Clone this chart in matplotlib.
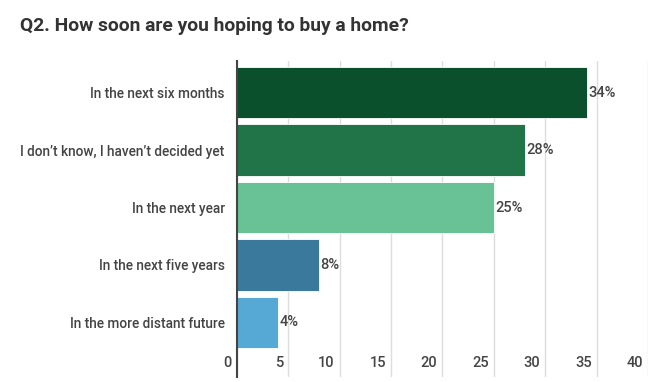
import numpy as np
import matplotlib.pyplot as plt
from matplotlib.transforms import ScaledTranslation

plt.rcParams['font.family'] = ['Roboto', 'DejaVu Sans']

# Dane
categories = ['In the next six months', 'I don\u2019t know, I haven\u2019t decided yet',
              'In the next year', 'In the next five years', 'In the more distant future']
values = [34, 28, 25, 8, 4]
colors = ['#0a502c', '#207448', '#68c295', '#3a799c', '#56a9d5']
xticks = [0, 5, 10, 15, 20, 25, 30, 35, 40]

W, H = 659, 382
fig = plt.figure(figsize=(W / 100, H / 100), dpi=100)
ax = fig.add_axes([236.5 / W, 1 - 377 / H, (648.5 - 236.5) / W, (377 - 61) / H])

y = np.arange(len(categories))
ax.barh(y, values, height=0.9, color=colors, edgecolor='white', linewidth=0.6, zorder=2)

for yi, v in zip(y, values):
    ax.text(v + 0.15, yi, f'{v}%', va='center', ha='left', fontsize=10.5,
            fontweight='medium', color='#444444')

ax.set_xlim(0, 40)
ax.set_ylim(4.948, -0.548)
ax.set_yticks(y)
ax.set_yticklabels(categories, fontsize=9.8, fontweight='medium', color='#444444')
ax.tick_params(axis='y', length=0, pad=8.5)

ax.set_xticks(xticks)
ax.set_xticklabels([str(t) for t in xticks], fontsize=10.5, fontweight='medium', color='#444444')
ax.tick_params(axis='x', length=0, pad=-15)
for lbl in ax.get_xticklabels():
    lbl.set_horizontalalignment('right')
    lbl.set_transform(lbl.get_transform() + ScaledTranslation(-5 / 100, 0, fig.dpi_scale_trans))

ax.grid(axis='x', color='#dddddd', linewidth=1, zorder=0)
for s in ['top', 'right', 'bottom']:
    ax.spines[s].set_visible(False)
ax.spines['left'].set_color('#444444')
ax.spines['left'].set_linewidth(1.5)
ax.spines['left'].set_zorder(3)

fig.text(20 / W, 1 - 26 / H, 'Q2. How soon are you hoping to buy a home?', fontsize=13.9,
         fontweight='bold', color='#333333', va='center', ha='left')

fig.savefig('out.png', dpi=100)
